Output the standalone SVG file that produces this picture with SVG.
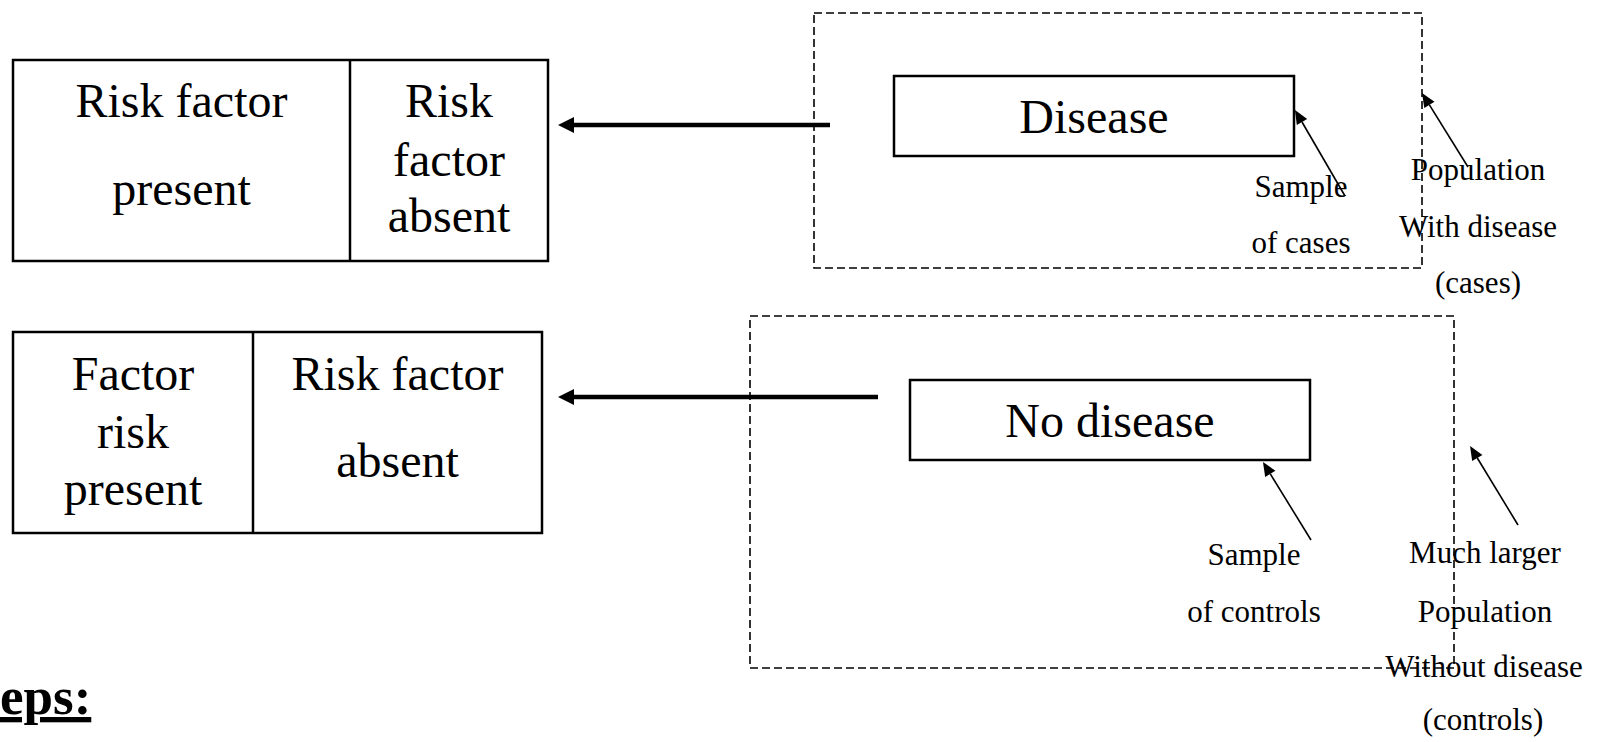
<svg xmlns="http://www.w3.org/2000/svg" width="1604" height="742" viewBox="0 0 1604 742">
<defs>
<style>
.box{fill:#fff;stroke:#000;stroke-width:2.5}
.div{stroke:#000;stroke-width:2.5}
.dash{fill:none;stroke:#000;stroke-width:1.6;stroke-dasharray:8 4}
.big{font-family:"Liberation Serif","Times New Roman",serif;font-size:48px;fill:#000;text-anchor:middle}
.small{font-family:"Liberation Serif","Times New Roman",serif;font-size:31px;fill:#000;text-anchor:middle}
.thick{stroke:#000;stroke-width:4.5;fill:none}
.thin{stroke:#000;stroke-width:1.6;fill:none}
.title{font-family:"Liberation Serif","Times New Roman",serif;font-size:53px;font-weight:bold;fill:#000;text-decoration:underline}
</style>
<marker id="bigHead" markerUnits="userSpaceOnUse" markerWidth="16" markerHeight="16" refX="0" refY="8" orient="auto" overflow="visible">
<path d="M0,0 L16,8 L0,16 z" fill="#000"/>
</marker>
<marker id="smallHead" markerUnits="userSpaceOnUse" markerWidth="14" markerHeight="12" refX="0" refY="6" orient="auto" overflow="visible">
<path d="M0,0 L14,6 L0,12 z" fill="#000"/>
</marker>
</defs>
<rect width="1604" height="742" fill="#fff"/>

<g id="cases-population">
<rect class="dash" x="814" y="13" width="608" height="255"/>
</g>
<g id="controls-population">
<rect class="dash" x="750" y="316" width="704" height="352"/>
</g>

<g id="table-cases">
<rect class="box" x="13" y="60" width="535" height="201"/>
<line class="div" x1="350" y1="60" x2="350" y2="261"/>
<text class="big" x="181.5" y="117">Risk factor</text>
<text class="big" x="181.5" y="205">present</text>
<text class="big" x="449" y="117">Risk</text>
<text class="big" x="449" y="176">factor</text>
<text class="big" x="449" y="232">absent</text>
</g>

<g id="table-controls">
<rect class="box" x="13" y="332" width="529" height="201"/>
<line class="div" x1="253" y1="332" x2="253" y2="533"/>
<text class="big" x="133" y="390">Factor</text>
<text class="big" x="133" y="448">risk</text>
<text class="big" x="133" y="505">present</text>
<text class="big" x="397.5" y="390">Risk factor</text>
<text class="big" x="397.5" y="477">absent</text>
</g>

<g id="disease">
<rect class="box" x="894" y="76" width="400" height="80"/>
<text class="big" x="1094" y="133">Disease</text>
</g>

<g id="no-disease">
<rect class="box" x="910" y="380" width="400" height="80"/>
<text class="big" x="1110" y="437">No disease</text>
</g>

<g id="label-sample-cases">
<text class="small" x="1301" y="197">Sample</text>
<text class="small" x="1301" y="253">of cases</text>
</g>
<g id="label-population-cases">
<text class="small" x="1478" y="180">Population</text>
<text class="small" x="1478" y="237">With disease</text>
<text class="small" x="1478" y="293">(cases)</text>
</g>
<g id="label-sample-controls">
<text class="small" x="1254" y="565">Sample</text>
<text class="small" x="1254" y="622">of controls</text>
</g>
<g id="label-population-controls">
<text class="small" x="1485" y="563">Much larger</text>
<text class="small" x="1485" y="622">Population</text>
<text class="small" x="1484" y="677">Without disease</text>
<text class="small" x="1483" y="730">(controls)</text>
</g>

<g id="connectors">
<line class="thick" x1="830" y1="125" x2="574" y2="125" marker-end="url(#bigHead)"/>
<line class="thick" x1="878" y1="397" x2="574" y2="397" marker-end="url(#bigHead)"/>
<line class="thin" x1="1345" y1="196" x2="1302" y2="122" marker-end="url(#smallHead)"/>
<line class="thin" x1="1468" y1="167" x2="1429.4" y2="104.9" marker-end="url(#smallHead)"/>
<line class="thin" x1="1311" y1="540" x2="1270.3" y2="473.9" marker-end="url(#smallHead)"/>
<line class="thin" x1="1518" y1="525" x2="1477.3" y2="458" marker-end="url(#smallHead)"/>
</g>

<text class="title" x="0" y="714">eps:</text>
</svg>
